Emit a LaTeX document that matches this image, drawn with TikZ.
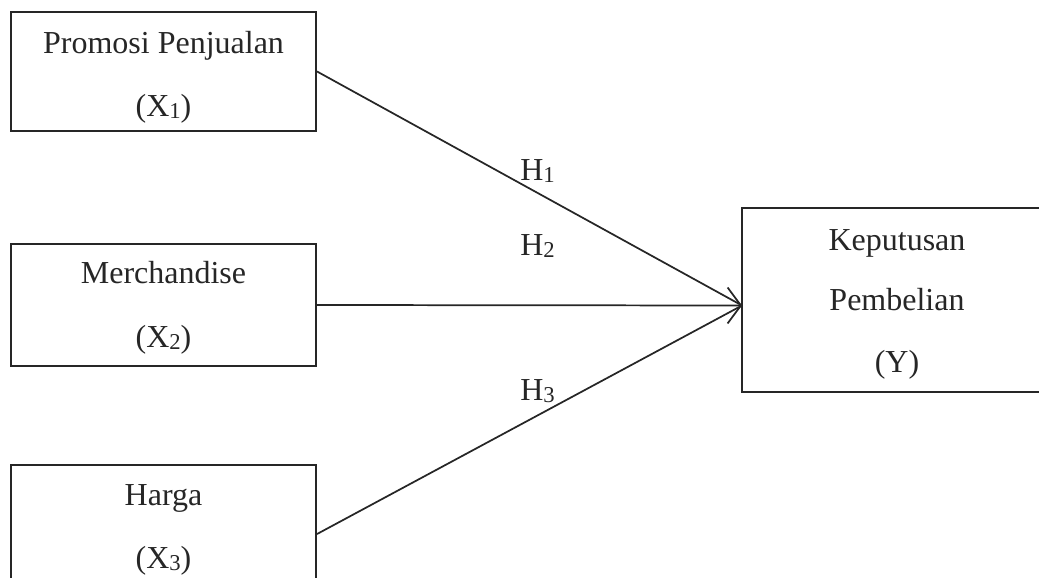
\documentclass[tikz,border=0pt]{standalone}
\usepackage{fontspec}
\setmainfont{Liberation Serif}
\usetikzlibrary{arrows.meta}
\definecolor{ink}{HTML}{262626}
\newcommand\subnum[1]{\raisebox{-0.07em}{\fontsize{17}{17}\selectfont #1}}
\begin{document}
\begin{tikzpicture}[x=0.75pt,y=-0.75pt,
  box/.style={draw=ink,line width=1.6pt,inner sep=0pt,minimum width=228.75pt},
  txt/.style={anchor=base,inner sep=0pt,text=ink,font=\fontsize{24}{28}\selectfont},
  hlab/.style={anchor=base west,inner sep=0pt,text=ink,font=\fontsize{24}{28}\selectfont},
  link/.style={draw=ink,line width=1.3pt}]
\useasboundingbox (0,0) rectangle (1039,578);
\clip (0,0) rectangle (1039,578);
% boxes
\node[box,minimum height=89.25pt] (b1) at (163.5,71.5) {};
\node[box,minimum height=91.5pt] (b2) at (163.5,305) {};
\node[box,minimum height=103.5pt] (b3) at (163.5,534) {};
\node[box,minimum width=232.5pt,minimum height=138pt] (by) at (897,300) {};
% texts
\node[txt] (t1a) at (163.5,53) {Promosi Penjualan};
\node[txt] (t1b) at (163.5,116) {(X\subnum{1})};
\node[txt] (t2a) at (163.5,283) {Merchandise};
\node[txt] (t2b) at (163.5,347) {(X\subnum{2})};
\node[txt] (t3a) at (163.5,505) {Harga};
\node[txt] (t3b) at (163.5,568) {(X\subnum{3})};
\node[txt] (tya) at (897,250) {Keputusan};
\node[txt] (tyb) at (897,310) {Pembelian};
\node[txt] (tyc) at (897,372) {(Y)};
% target
\coordinate (tgt) at (742,305.5);
\draw[link] (b1.east) -- (tgt);
\draw[link,-{Straight Barb[length=10pt,width=27pt,line width=1.3pt]}] (b2.east) -- (tgt);
\draw[link] (b3.east) -- (tgt);
% labels
\node[hlab] (h1) at (520,180) {H\subnum{1}};
\node[hlab] (h2) at (520,255) {H\subnum{2}};
\node[hlab] (h3) at (520,400) {H\subnum{3}};
\end{tikzpicture}
\end{document}
